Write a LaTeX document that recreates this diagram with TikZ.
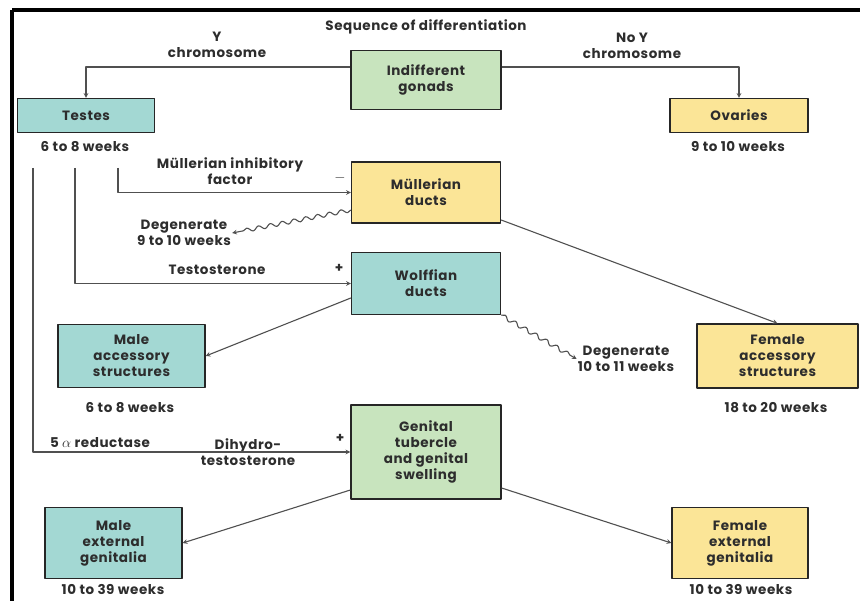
\documentclass[tikz,border=0pt]{standalone}
\usepackage{fontspec}
\setmainfont{Poppins}[LetterSpace=4]
\usetikzlibrary{decorations.pathmorphing}
\definecolor{boxblue}{RGB}{163,216,211}
\definecolor{boxyellow}{RGB}{251,229,151}
\definecolor{boxgreen}{RGB}{200,228,190}
\definecolor{ink}{RGB}{45,45,45}
\definecolor{wire}{RGB}{80,80,80}
\begin{document}
\begin{tikzpicture}[x=1pt,y=-1pt,line join=round,>=stealth,
  font=\fontsize{13.5}{16}\selectfont\bfseries,text=ink,
  box/.style={draw=black!85,line width=1.3pt,align=center,inner sep=2pt},
  blu/.style={box,fill=boxblue},
  yel/.style={box,fill=boxyellow},
  grn/.style={box,fill=boxgreen},
  lbl/.style={align=center,inner sep=1pt},
  wire/.style={draw=wire,line width=1.1pt},
  wavy/.style={wire,decorate,decoration={snake,amplitude=2pt,segment length=12pt,post length=6pt}}]
\useasboundingbox (0,0) rectangle (860,601);
% frame
\draw[line width=3.5pt] (12,10) -- (860,10);
\draw[line width=3.5pt] (12,10) -- (12,601);
\node[lbl] (title) at (426,27) {Sequence of differentiation};
% boxes
\node[grn,minimum width=150pt,minimum height=59pt] (gon) at (426,80) {Indifferent\\gonads};
\node[blu,minimum width=137pt,minimum height=34pt] (tes) at (86,115.5) {Testes};
\node[yel,minimum width=138pt,minimum height=34pt] (ova) at (739,115.5) {Ovaries};
\node[yel,minimum width=149pt,minimum height=61pt] (mul) at (426,192.5) {Müllerian\\ducts};
\node[blu,minimum width=149pt,minimum height=62pt] (wol) at (426,283.5) {Wolffian\\ducts};
\node[blu,minimum width=147pt,minimum height=63pt] (macc) at (131.5,356) {Male\\accessory\\structures};
\node[yel,minimum width=161pt,minimum height=64pt] (facc) at (777.5,356) {Female\\accessory\\structures};
\node[grn,minimum width=150pt,minimum height=94pt] (gen) at (426,452) {Genital\\tubercle\\and genital\\swelling};
\node[blu,minimum width=137pt,minimum height=71pt] (mext) at (113.5,543) {Male\\external\\genitalia};
\node[yel,minimum width=136pt,minimum height=71pt] (fext) at (740,543) {Female\\external\\genitalia};
% times
\node[lbl] (tesw) at (85,147) {6 to 8 weeks};
\node[lbl] (ovaw) at (738,147) {9 to 10 weeks};
\node[lbl] (maccw) at (130,408) {6 to 8 weeks};
\node[lbl] (faccw) at (776,408) {18 to 20 weeks};
\node[lbl] (mextw) at (113,590) {10 to 39 weeks};
\node[lbl] (fextw) at (741,590) {10 to 39 weeks};
% other labels
\node[lbl] (ylab) at (217,45) {Y\\chromosome};
\node[lbl] (noylab) at (632,46) {No Y\\chromosome};
\node[lbl] (mif) at (230,171) {Müllerian inhibitory\\factor};
\node[lbl] (deg1) at (184,233) {Degenerate\\9 to 10 weeks};
\node[lbl] (testo) at (217,270) {Testosterone};
\node[lbl] (deg2) at (626,359) {Degenerate\\10 to 11 weeks};
\node[lbl] (red) at (100,443) {5 $\alpha$ reductase};
\node[lbl] (dht) at (248,452) {Dihydro-\\testosterone};
\node[lbl] (minus) at (340,178) {$-$};
\node[lbl] (plus1) at (339,268) {+};
\node[lbl] (plus2) at (340,438) {+};
\coordinate (t1) at (33,168);
\coordinate (t2) at (75,168);
\coordinate (t3) at (118,168);
% connectors
\draw[wire,->] (gon.west |- 0,67) -| (tes.north);
\draw[wire,->] (gon.east |- 0,67) -| (ova.north);
\draw[wire,->] (t3) |- (mul.west);
\draw[wire,->] (t2) |- (wol.west);
\draw[wire,->] (t1) |- (gen.west);
\draw[wavy,->] (mul.west |- 0,210) -- (deg1.east);
\draw[wavy,->] (wol.south east) -- (deg2.west);
\draw[wire,->] (mul.east |- 0,220) -- (facc.north);
\draw[wire,->] (wol.west |- 0,298) -- (macc.east);
\draw[wire,->] (gen.west |- 0,490) -- (mext.east);
\draw[wire,->] (gen.east |- 0,488) -- (fext.west);
\end{tikzpicture}
\end{document}
